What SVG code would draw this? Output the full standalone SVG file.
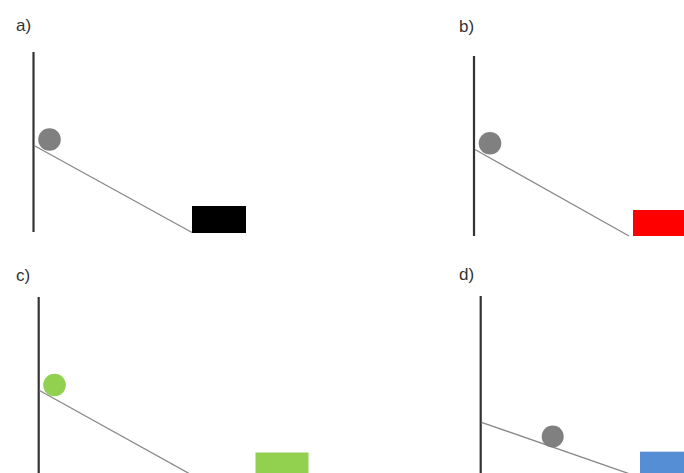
<svg xmlns="http://www.w3.org/2000/svg" width="684" height="473" viewBox="0 0 684 473">
<style>
.lbl{font-family:"Liberation Sans",Arial,sans-serif;font-size:17px;fill:#333}
.wall{stroke:#333;stroke-width:2.2;fill:none}
.ramp{stroke:#888;stroke-width:1.3;fill:none}
.ball{fill:#808080}
</style>
<rect width="684" height="473" fill="#fff"/>
<g id="panel-a">
<text class="lbl" x="16" y="31">a)</text>
<line class="wall" x1="33.5" y1="52" x2="33.5" y2="232"/>
<line class="ramp" x1="34" y1="145.5" x2="192" y2="232.5"/>
<circle class="ball" cx="49.5" cy="139.5" r="11.3"/>
<rect x="192" y="206" width="54" height="27" fill="#000"/>
</g>
<g id="panel-b">
<text class="lbl" x="459" y="32">b)</text>
<line class="wall" x1="474" y1="56" x2="474" y2="236"/>
<line class="ramp" x1="475" y1="149.5" x2="629" y2="236"/>
<circle class="ball" cx="490" cy="143.3" r="11.3"/>
<rect x="633" y="210" width="51" height="26" fill="#ff0000"/>
</g>
<g id="panel-c">
<text class="lbl" x="16" y="281">c)</text>
<line class="wall" x1="38.7" y1="297" x2="38.7" y2="473"/>
<line class="ramp" x1="39.5" y1="390.5" x2="190" y2="474"/>
<circle class="ball" cx="54.5" cy="385" r="11.3" style="fill:#92d050"/>
<rect x="255.5" y="452.5" width="53" height="21" fill="#92d050"/>
</g>
<g id="panel-d">
<text class="lbl" x="459" y="280">d)</text>
<line class="wall" x1="480.7" y1="296" x2="480.7" y2="473"/>
<line class="ramp" x1="481.5" y1="422.3" x2="630" y2="474"/>
<circle class="ball" cx="552.7" cy="436.5" r="11"/>
<rect x="640" y="451.7" width="44" height="21.3" fill="#558ed5"/>
</g>
</svg>
